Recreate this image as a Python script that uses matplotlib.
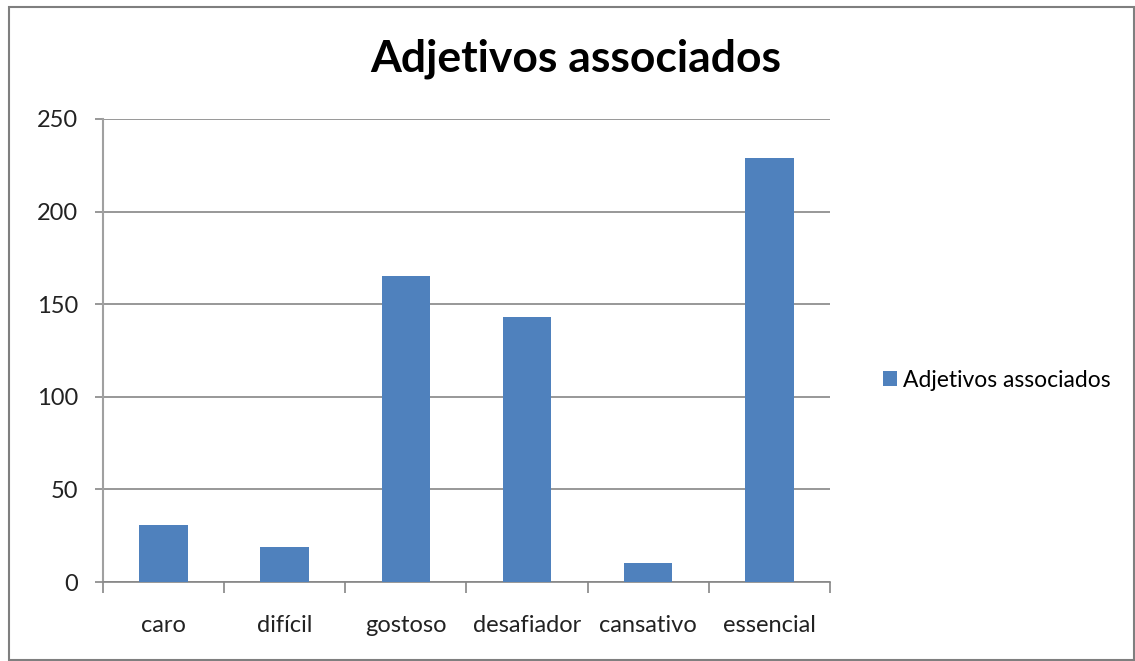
import matplotlib.pyplot as plt
import matplotlib.ticker as ticker
import numpy as np

categories = ["caro", "difícil", "gostoso", "desafiador", "cansativo", "essencial"]
counts = [31, 19, 165, 143, 10, 229]
series_name = "Adjetivos associados"
y_ticks = [0, 50, 100, 150, 200, 250]

plt.rcParams["font.family"] = ["Lato", "DejaVu Sans"]

fig = plt.figure(figsize=(11.35, 6.61), dpi=100)
ax = fig.add_axes([0.0907, 0.1195, 0.6406, 0.7005])

x = np.arange(len(categories))
ax.bar(x, counts, width=0.4, color="#4F81BD", label=series_name, zorder=3)

ax.set_xlim(-0.5, len(categories) - 0.5)
ax.set_ylim(0, 250)
ax.set_yticks(y_ticks)
ax.yaxis.grid(True, color="#868686", linewidth=1.2, zorder=0)

# category labels centred, tick marks between categories
ax.set_xticks(x)
ax.set_xticklabels(categories, fontsize=17, color="#222222")
ax.tick_params(axis="x", length=0, pad=24)
ax.xaxis.set_minor_locator(ticker.FixedLocator(np.arange(-0.5, len(categories), 1.0)))
ax.tick_params(axis="x", which="minor", length=8, color="#868686", width=1.2)
ax.tick_params(axis="y", length=6, color="#868686", width=1.2, labelsize=17,
               labelcolor="#222222", pad=12)

for side in ["top", "right"]:
    ax.spines[side].set_visible(False)
ax.spines["left"].set_color("#A0A0A0")
ax.spines["left"].set_linewidth(1.5)
ax.spines["bottom"].set_color("#868686")
ax.spines["bottom"].set_linewidth(1.2)

fig.text(0.507, 0.911, series_name, ha="center", va="center", fontsize=32,
         fontweight="bold", color="black")

fig.legend(loc="center left", bbox_to_anchor=(0.760, 0.425), frameon=False,
           fontsize=16.5, handlelength=0.6, handleheight=0.6, handletextpad=0.25)

# thin border round the whole chart
fig.patches.append(plt.Rectangle((9 / 1135, 1 / 661), 1125 / 1135, 653 / 661,
                                 transform=fig.transFigure, fill=False,
                                 edgecolor="#7F7F7F", linewidth=1.5))

fig.savefig("out.png", dpi=100)
